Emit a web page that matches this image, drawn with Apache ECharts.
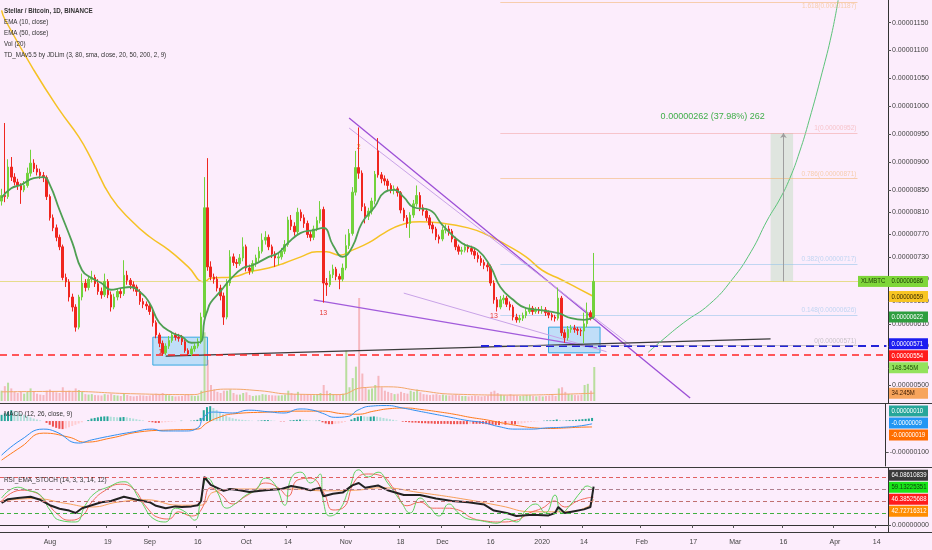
<!DOCTYPE html>
<html><head><meta charset="utf-8">
<script src="https://cdn.jsdelivr.net/npm/echarts@6/dist/echarts.min.js"></script>
<style>html,body{margin:0;padding:0;background:#fcedfc}#c{width:932px;height:550px}</style>
</head><body><div id="c"></div>
<script>
// ---------- DATA (prices in satoshi = 1e-8 BTC) ----------
const startDate = '2019-07-17';
const dayCount = 276; // daily categories, Jul 17 2019 .. Apr 18 2020

// [open, close, low, high] one row per day from Jul 17 2019
const candles = [
[830,840,822,852],[840,838,828,970],[838,891,834,905],[891,873,866,909],[873,864,858,880],
[864,858,850,870],[858,850,825,862],[850,858,846,866],[858,880,854,890],[880,898,874,922],
[898,888,882,905],[888,882,876,895],[882,876,870,888],[876,872,864,882],[872,838,832,876],
[838,800,795,842],[800,782,776,806],[782,765,758,788],[765,748,742,770],[748,693,688,752],
[693,685,676,700],[685,658,650,690],[658,640,632,664],[640,604,596,645],[604,658,600,662],
[658,683,652,700],[683,675,668,690],[675,690,670,696],[690,693,684,705],[693,682,676,698],
[682,668,662,690],[668,662,655,675],[662,686,658,700],[686,662,656,690],[662,640,632,668],
[640,658,636,664],[658,668,652,674],[668,664,656,674],[664,697,660,724],[697,688,680,705],
[688,680,672,692],[680,676,668,686],[676,668,660,680],[668,650,644,672],[650,645,638,656],
[645,642,635,650],[642,632,626,648],[632,612,605,636],[612,590,584,616],[590,575,568,594],
[575,558,553,580],[558,570,554,575],[570,580,565,588],[580,590,576,596],[590,586,580,594],
[586,584,578,592],[584,578,572,590],[578,562,558,582],[562,556,553,566],[556,565,552,570],
[565,570,560,575],[570,578,566,584],[578,622,574,630],[622,818,618,873],[818,712,705,907],
[712,694,688,722],[694,690,682,700],[690,674,668,695],[674,660,652,680],[660,622,608,666],
[622,683,618,690],[683,730,678,742],[730,720,714,736],[720,718,710,726],[718,728,714,735],
[728,748,722,765],[748,710,704,752],[710,705,698,716],[705,718,700,724],[718,728,712,734],
[728,740,722,748],[740,760,736,772],[760,765,752,776],[765,748,742,770],[748,735,728,752],
[735,728,712,740],[728,730,715,738],[730,740,725,746],[740,752,735,760],[752,796,748,802],
[796,785,778,805],[785,775,768,792],[775,810,770,818],[810,800,794,815],[800,790,782,806],
[790,770,764,795],[770,765,758,776],[765,780,760,786],[780,795,776,802],[795,815,790,830],
[815,683,648,820],[683,680,660,692],[680,698,676,705],[698,708,692,716],[708,695,688,712],
[695,690,672,700],[690,710,686,718],[710,750,706,770],[750,772,744,780],[772,846,768,855],
[846,890,840,920],[890,880,870,962],[880,820,812,885],[820,803,790,826],[803,812,796,818],
[812,830,806,836],[830,878,824,884],[920,877,872,943],[877,870,862,882],[870,866,858,876],
[866,858,850,870],[858,850,844,862],[850,852,842,858],[852,845,838,856],[845,814,808,848],
[814,800,794,818],[800,790,782,805],[790,805,764,810],[805,825,800,832],[825,840,820,858],
[840,818,812,846],[818,812,804,824],[812,800,794,816],[800,787,780,805],[787,780,772,792],
[780,766,760,784],[766,762,754,770],[762,778,758,784],[778,780,772,788],[780,776,768,786],
[776,762,756,780],[762,748,742,766],[748,740,734,752],[740,742,734,748],[742,748,738,754],
[748,745,738,752],[745,740,734,750],[740,733,726,745],[733,727,720,738],[727,720,714,732],
[720,715,708,725],[715,712,704,720],[712,683,678,716],[683,653,646,688],[653,640,632,658],
[640,653,636,660],[653,656,646,662],[656,645,640,660],[645,640,634,650],[640,622,616,644],
[622,617,612,628],[617,620,612,626],[620,625,615,630],[625,632,620,638],[632,638,628,645],
[638,632,626,642],[632,635,628,640],[635,633,628,640],[633,635,628,642],[635,630,624,640],
[630,626,620,634],[626,622,616,630],[622,620,614,626],[620,656,616,675],[656,594,588,660],
[594,585,576,600],[585,600,580,606],[600,602,594,608],[602,600,594,608],[600,598,590,604],
[598,597,588,602],[597,610,575,630],[610,630,604,648],[630,622,616,634],[622,686,618,737]
];

// volume, millions
const volume = [
45,65,80,55,40,35,42,32,40,55, 42,32,28,26,45,50,42,38,35,60,
42,45,40,55,48,40,30,28,30,26, 25,24,30,28,32,26,24,22,35,26,
22,20,22,25,24,22,24,28,32,30, 35,28,25,22,20,21,22,26,28,24,
22,24,45,300,180,70,50,40,35,45, 45,50,35,28,28,35,38,26,22,24,
25,30,28,26,25,24,24,25,28,45, 35,30,40,30,28,30,26,25,28,35,
70,45,35,30,28,30,32,220,60,100, 150,450,120,60,50,55,70,110,60,45,
40,35,30,32,40,35,32,45,40,50, 38,30,28,26,28,30,26,28,25,24,
26,28,25,22,22,20,22,24,22,20, 22,24,40,45,35,28,25,24,30,26,
24,22,24,26,25,22,20,22,20,22, 24,26,22,55,60,40,30,28,26,25,
28,70,75,45,148.545
];
const volumeMA = [[0,40],[20,42],[40,32],[60,28],[63,40],[70,52],[80,45],[90,30],[105,28],[112,58],[120,62],[130,45],[140,30],[160,26],[175,30],[184,34.245]];

// moving averages: [day index, value]
const ema10 = [[0,836],[3,853],[6,859],[10,871],[13,873],[15,859],[18,814],[22,755],[25,706],[28,692],[31,683],[34,671],[37,674],[40,676],[43,667],[46,647],[49,612],[53,594],[56,587],[59,576],[62,578],[63,615],[64,634],[65,648],[68,668],[71,689],[75,710],[78,715],[83,730],[86,737],[89,755],[93,773],[97,778],[100,782],[103,751],[106,730],[109,748],[112,791],[116,820],[119,846],[122,850],[125,837],[128,819],[133,814],[137,787],[143,755],[148,742],[152,712],[155,676],[159,653],[163,638],[167,635],[173,629],[177,620],[181,617],[184,622]];
const ema50 = [[0,1172],[1,1156],[10,1065],[18,993],[24,945],[28,904],[34,837],[41,791],[46,766],[52,742],[58,712],[63,685],[65,692],[72,694],[77,703],[83,710],[88,719],[93,730],[98,739],[101,739],[105,733],[109,742],[114,755],[119,773],[124,787],[130,793],[136,791],[145,782],[151,769],[157,751],[163,730],[168,706],[174,689],[179,674],[184,659]];

// MACD (12,26,9) in 1e-8
const macdLine = [[0,-110],[6,-61],[13,-26],[17,-35],[24,-71],[28,-61],[34,-48],[41,-35],[47,-26],[50,-32],[57,-32],[61,-23],[63,13],[66,29],[72,26],[77,35],[83,30],[88,26],[93,39],[97,35],[100,25],[104,12],[108,15],[111,35],[115,48],[120,50],[125,42],[130,32],[135,22],[140,12],[145,2],[150,-5],[155,-18],[160,-26],[165,-26],[170,-22],[175,-20],[180,-16],[184,-9]];
const signalLine = [[0,-126],[6,-84],[13,-39],[21,-52],[26,-68],[34,-55],[43,-35],[52,-29],[61,-26],[64,-6],[68,13],[72,23],[83,29],[93,32],[100,32],[106,24],[111,22],[116,32],[121,40],[126,42],[131,37],[136,30],[141,22],[146,12],[151,4],[156,-6],[161,-15],[166,-22],[171,-24],[176,-22],[180,-20],[184,-19]];
const macdHist = [
20,25,30,35,32,28,24,20,16,12, 8,5,2,0,-6,-12,-18,-22,-25,-26,
-24,-20,-16,-12,-8,-4,0,3,8,10, 12,14,15,15,14,13,12,12,13,12,
10,8,6,4,2,0,-2,-4,-6,-6, -5,-4,-3,-2,-1,0,1,0,0,1,
2,4,10,35,45,48,42,36,28,22, 16,12,9,7,5,4,3,2,1,0,
1,2,3,3,2,1,0,-1,-1,0, 2,3,4,5,4,3,2,1,1,2,
-4,-8,-10,-10,-9,-8,-6,-3,0,5, 10,14,16,15,14,14,15,14,12,10,
8,6,4,2,0,-2,-3,-4,-5,-5, -6,-7,-7,-8,-8,-9,-9,-9,-9,-9,
-10,-10,-10,-10,-10,-10,-9,-9,-9,-9, -9,-10,-11,-12,-13,-13,-12,-12,-11,-11,
-11,-10,-8,-6,-4,-3,-2,-1,0,1, 2,2,3,5,3,2,2,3,3,4,
5,6,7,8,10
];

// RSI_EMA_STOCH pane
const rsiLine = [[0,37],[2,43],[5,45],[9,47],[12,42],[15,33],[18,27],[21,24],[23,20],[25,28],[28,33],[31,38],[34,40],[38,47],[42,42],[46,38],[48,32],[51,28],[54,31],[56,30],[59,31],[61,33],[62,40],[63,80],[65,67],[69,57],[71,60],[74,58],[77,55],[82,58],[87,60],[90,65],[93,62],[96,58],[99,62],[100,48],[103,52],[106,54],[109,66],[111,70],[113,62],[117,66],[120,58],[125,50],[130,50],[135,44],[140,40],[145,38],[150,34],[153,24],[157,20],[160,15],[165,17],[170,16],[172,20],[173,30],[175,20],[178,23],[181,26],[183,30],[184,64.086]];
const stochK = [[0,45],[5,63],[8,58],[12,50],[15,25],[18,8],[23,5],[26,33],[29,53],[33,63],[38,72],[40,67],[43,42],[48,8],[51,5],[54,28],[57,22],[60,8],[62,45],[64,78],[67,55],[70,28],[73,37],[76,50],[79,58],[82,78],[85,67],[88,33],[90,78],[93,88],[96,70],[99,85],[100,40],[102,15],[105,25],[108,60],[111,92],[114,80],[117,88],[120,70],[124,40],[127,20],[130,45],[133,30],[136,15],[139,35],[142,20],[145,10],[148,8],[151,5],[154,3],[157,10],[160,5],[163,25],[166,35],[169,20],[172,50],[174,20],[177,35],[180,55],[182,65],[184,59.13]];
const stochD = [[0,40],[6,58],[10,55],[14,38],[17,20],[21,8],[25,15],[28,38],[32,57],[37,68],[41,60],[45,30],[49,12],[52,10],[55,22],[59,15],[62,25],[65,62],[68,52],[72,35],[75,45],[78,55],[82,70],[86,62],[89,48],[92,75],[96,78],[100,55],[103,25],[106,28],[110,75],[114,85],[118,82],[122,60],[126,32],[130,38],[134,28],[138,28],[142,25],[146,12],[150,7],[155,5],[160,8],[164,20],[168,28],[172,40],[175,30],[179,40],[182,45],[184,46.39]];
const rsiEma = [[0,40],[10,44],[20,36],[28,30],[36,38],[45,42],[55,33],[62,33],[66,55],[75,60],[90,60],[100,57],[110,58],[118,62],[130,54],[145,42],[155,32],[165,22],[175,22],[182,30],[184,42.73]];
const rsiLevels = [80, 60, 40, 20];

// axis ticks
const priceTicks = [1150,1100,1050,1000,950,900,850,810,770,730,690,650,610,570,530,500];
const xTicks = [['2019-08-01','Aug'],['2019-08-19','19'],['2019-09-01','Sep'],['2019-09-16','16'],['2019-10-01','Oct'],['2019-10-14','14'],['2019-11-01','Nov'],['2019-11-18','18'],['2019-12-01','Dec'],['2019-12-16','16'],['2020-01-01','2020'],['2020-01-14','14'],['2020-02-01','Feb'],['2020-02-17','17'],['2020-03-01','Mar'],['2020-03-16','16'],['2020-04-01','Apr'],['2020-04-14','14']];

// drawings: [day index, price]
const fibLevels = [[0,571,'#9e9e9e'],[0.148,626,'#8fc3ea'],[0.382,717,'#8fc3ea'],[0.786,871,'#f2b36b'],[1,952,'#f3a3a3'],[1.618,1187,'#f2b36b']];
const fibSpan = [155, 266];
const wedgeUpperThick = [[108,979],[214,477]];
const wedgeUpperThin = [[108,961],[196,569]];
const wedgeLowerThick = [[97,653],[185,567]];
const wedgeLowerThin = [[125,665],[188,560]];
const supportLine = [[51,552],[239,583]];
const parabola = [[201,559],[205,579],[212,612],[220,645],[227,689],[233,740],[238,796],[242,835],[245,871],[248,918],[251,975],[255,1060],[258,1130],[260,1190]];
const boxes = [[[47,586],[64,536]],[[170,604],[186,558]]];
const measureBox = [[239,952],[246,686]];
const measureText = '0.00000262 (37.98%) 262';
const tdMarks = [[50,560,'12','#e53935'],[100,630,'13','#e53935'],[153,624,'13','#e53935'],[111,926,'2','#f0a030']];
const lastPrice = 686, ema50Last = 659, ema10Last = 622, blueLevel = 571, redLevel = 554;

// ---------- BUILD ----------
const dates = [];
(function(){ const d0 = new Date(startDate + 'T00:00:00Z');
  for (let i = 0; i < dayCount; i++) { const d = new Date(d0.getTime() + i*86400000); dates.push(d.toISOString().slice(0,10)); } })();
const tickMap = {}; xTicks.forEach(t => tickMap[t[0]] = t[1]);
const fmtP = v => (v/1e8).toFixed(8);
const FONT = "'Liberation Sans',Arial,sans-serif";
const UP = '#72d23c', DOWN = '#f0261f';
const R = 43;
const AX_FS = 7;

const volData = volume.map((v,i) => ({ value: v, itemStyle: { color: candles[i][1] >= candles[i][0] ? 'rgba(130,210,80,0.55)' : 'rgba(240,120,120,0.45)' } }));
const histData = macdHist.map((v,i) => { const p = i ? macdHist[i-1] : v;
  let c = v >= 0 ? (v >= p ? '#26a69a' : '#b2dfdb') : (v <= p ? '#ef5350' : '#ffcdd2');
  return { value: v, itemStyle: { color: c } }; });

const xAxisBase = (g, show) => ({ type: 'category', gridIndex: g, data: dates, boundaryGap: true,
  axisLine: { show: show, lineStyle: { color: '#333' } },
  axisTick: { show: show, interval: (i, v) => tickMap[v] !== undefined, length: 3, lineStyle: { color: '#555' } },
  axisLabel: { show: show, interval: (i, v) => tickMap[v] !== undefined, formatter: v => tickMap[v] || '', fontFamily: FONT, fontSize: AX_FS, color: '#444', margin: 7 },
  splitLine: { show: false } });

const lineSeg = (pts, color, width, x, y, type) => ({ type: 'line', xAxisIndex: x||0, yAxisIndex: y||0, data: pts, symbol: 'none', silent: true,
  lineStyle: { color: color, width: width, type: type || 'solid' }, z: 4 });

const yLab = (vals, fmt) => ({ customValues: vals, formatter: fmt, fontFamily: FONT, fontSize: AX_FS, color: '#444', margin: 4 });
const yTick = vals => ({ show: true, length: 3, customValues: vals, lineStyle: { color: '#555' } });

const option = {
  animation: false,
  backgroundColor: '#fcedfc',
  textStyle: { fontFamily: FONT },
  grid: [
    { left: 0, right: R, top: 0, height: 403 },
    { left: 0, right: R, top: 271, height: 130 },
    { left: 0, right: R, top: 404, height: 62 },
    { left: 0, right: R, top: 468, height: 64 }
  ],
  xAxis: [ xAxisBase(0,false), xAxisBase(1,false), xAxisBase(2,false), xAxisBase(3,true) ],
  yAxis: [
    { type: 'value', gridIndex: 0, position: 'right', min: 468, max: 1190.5,
      axisLine: { show: true, lineStyle: { color: '#333' } }, axisTick: yTick(priceTicks), axisLabel: yLab(priceTicks, fmtP), splitLine: { show: false } },
    { type: 'value', gridIndex: 1, min: 0, max: 568, show: false, splitLine: { show: false } },
    { type: 'value', gridIndex: 2, position: 'right', min: -145, max: 55,
      axisLine: { show: true, lineStyle: { color: '#333' } }, axisTick: yTick([-100]), axisLabel: yLab([-100], fmtP), splitLine: { show: false } },
    { type: 'value', gridIndex: 3, position: 'right', min: -11.7, max: 95,
      axisLine: { show: true, lineStyle: { color: '#333' } }, axisTick: yTick([0]), axisLabel: yLab([0], v => v.toFixed(8)), splitLine: { show: false } }
  ],
  series: [
    { type: 'bar', xAxisIndex: 1, yAxisIndex: 1, data: volData, barWidth: 2, z: 1, silent: true },
    { type: 'line', xAxisIndex: 1, yAxisIndex: 1, data: volumeMA, symbol: 'none', smooth: true, lineStyle: { color: '#f3a86a', width: 1 }, z: 1 },
    { type: 'candlestick', xAxisIndex: 0, yAxisIndex: 0, data: candles, barWidth: 2, z: 5,
      itemStyle: { color: UP, color0: DOWN, borderColor: UP, borderColor0: DOWN, borderWidth: 1 },
      markArea: { silent: true, data: [
        ...boxes.map(b => [{ coord: b[0], itemStyle: { color: 'rgba(120,205,245,0.45)', borderColor: '#36a9e1', borderWidth: 1 } }, { coord: b[1] }]),
        [{ coord: measureBox[0], itemStyle: { color: 'rgba(110,200,110,0.2)' } }, { coord: measureBox[1] }]
      ] },
      markLine: { silent: true, symbol: 'none', animation: false, data: [
        { yAxis: lastPrice, lineStyle: { color: '#e6dc8c', width: 1, type: 'solid' }, label: { show: false } },
        { yAxis: redLevel, lineStyle: { color: '#ff2424', width: 1.6, type: [7, 5] }, label: { show: false } },
        [{ coord: [149, blueLevel], lineStyle: { color: '#2323d8', width: 2, type: [8, 5] }, label: { show: false } }, { coord: [dayCount - 1, blueLevel] }],
        ...fibLevels.map(f => [{ coord: [fibSpan[0], f[1]], lineStyle: { color: f[2], width: 1, type: 'solid', opacity: 0.55 },
            label: { show: true, position: f[1] > 1150 ? 'insideEndBottom' : 'insideEndTop', formatter: f[0] + '(' + fmtP(f[1]) + ')', color: f[2], fontFamily: FONT, fontSize: 6.5, distance: 1 } },
          { coord: [fibSpan[1], f[1]] }]),
        [{ coord: [Math.round((measureBox[0][0] + measureBox[1][0]) / 2), measureBox[1][1]], symbol: 'none', lineStyle: { color: '#9e9e9e', width: 1, type: 'solid' }, label: { show: false } },
         { coord: [Math.round((measureBox[0][0] + measureBox[1][0]) / 2), measureBox[0][1]], symbol: 'arrow', symbolSize: 5 }]
      ] },
      markPoint: { silent: true, symbol: 'circle', symbolSize: 0, data: [
        ...tdMarks.map(m => ({ coord: [m[0], m[1]], label: { show: true, formatter: m[2], color: m[3], fontSize: 7, fontFamily: FONT } })),
        { coord: [221, 982], label: { show: true, formatter: measureText, color: '#3fae49', fontSize: 9, fontFamily: FONT } }
      ] }
    },
    { type: 'line', xAxisIndex: 0, yAxisIndex: 0, data: ema50, symbol: 'none', smooth: true, lineStyle: { color: '#f5c225', width: 1.5 }, z: 3 },
    { type: 'line', xAxisIndex: 0, yAxisIndex: 0, data: ema10, symbol: 'none', smooth: true, lineStyle: { color: '#4f9f53', width: 1.8 }, z: 6 },
    lineSeg(wedgeUpperThick, '#9c4fd6', 1.3),
    lineSeg(wedgeUpperThin, '#c9a3e8', 1),
    lineSeg(wedgeLowerThick, '#a25bdb', 1.3),
    lineSeg(wedgeLowerThin, '#c9a3e8', 1),
    lineSeg(supportLine, '#3a3a3a', 1.3),
    Object.assign(lineSeg(parabola, '#5cc37a', 1), { smooth: true }),
    { type: 'bar', xAxisIndex: 2, yAxisIndex: 2, data: histData, barWidth: 2, silent: true },
    { type: 'line', xAxisIndex: 2, yAxisIndex: 2, data: signalLine, symbol: 'none', smooth: true, lineStyle: { color: '#ff7a1a', width: 1 } },
    { type: 'line', xAxisIndex: 2, yAxisIndex: 2, data: macdLine, symbol: 'none', smooth: true, lineStyle: { color: '#2f8ff0', width: 1 } },
    { type: 'line', xAxisIndex: 3, yAxisIndex: 3, data: rsiEma, symbol: 'none', smooth: true, lineStyle: { color: '#f7a05a', width: 1 },
      markLine: { silent: true, symbol: 'none', label: { show: false }, data: rsiLevels.map((v, k) => ({ yAxis: v, lineStyle: { color: ['#e06060', '#b08090', '#c07070', '#40b040'][k], width: 1, type: [4, 3] } })) } },
    { type: 'line', xAxisIndex: 3, yAxisIndex: 3, data: stochD, symbol: 'none', smooth: true, lineStyle: { color: '#f06a5a', width: 1 } },
    { type: 'line', xAxisIndex: 3, yAxisIndex: 3, data: stochK, symbol: 'none', smooth: true, lineStyle: { color: '#5fd35f', width: 1 } },
    { type: 'line', xAxisIndex: 3, yAxisIndex: 3, data: rsiLine, symbol: 'none', lineStyle: { color: '#222', width: 2 } }
  ]
};

const chart = echarts.init(document.getElementById('c'), null, { renderer: 'canvas' });
chart.setOption(option);

// ---------- axis tags and overlay text ----------
const n = candles.length - 1;
const tagGroups = [
  [ { ax: 0, v: lastPrice, t: fmtP(lastPrice), bg: '#7fd63a', fg: '#1b3a05', sym: 'XLMBTC' },
    { ax: 0, v: ema50Last, t: fmtP(ema50Last), bg: '#f8c524', fg: '#3a2a00' },
    { ax: 0, v: ema10Last, t: fmtP(ema10Last), bg: '#2f9e3f', fg: '#ffffff' },
    { ax: 0, v: blueLevel, t: fmtP(blueLevel), bg: '#1c1cf0', fg: '#ffffff' },
    { ax: 0, v: redLevel, t: fmtP(redLevel), bg: '#ff1c1c', fg: '#ffffff' },
    { ax: 1, v: volume[n], t: volume[n].toFixed(3) + 'M', bg: '#93e25c', fg: '#1b4a05' },
    { ax: 1, v: volumeMA[volumeMA.length-1][1], t: volumeMA[volumeMA.length-1][1].toFixed(3) + 'M', bg: '#f7a45c', fg: '#3a1a00' } ],
  [ { ax: 2, v: macdHist[n], t: fmtP(macdHist[n]), bg: '#26a69a', fg: '#ffffff' },
    { ax: 2, v: macdLine[macdLine.length-1][1], t: '-0.0000009', bg: '#2196f3', fg: '#ffffff' },
    { ax: 2, v: signalLine[signalLine.length-1][1], t: fmtP(signalLine[signalLine.length-1][1]), bg: '#ff6d00', fg: '#ffffff' } ],
  [ { ax: 3, v: rsiLine[rsiLine.length-1][1], t: '64.08610839', bg: '#3a3a3a', fg: '#ffffff' },
    { ax: 3, v: stochK[stochK.length-1][1], t: '59.13225351', bg: '#19e619', fg: '#0b3a0b' },
    { ax: 3, v: stochD[stochD.length-1][1], t: '46.38525688', bg: '#ff1c1c', fg: '#ffffff' },
    { ax: 3, v: rsiEma[rsiEma.length-1][1], t: '42.72716312', bg: '#ff8c00', fg: '#ffffff' } ]
];
const GAP = 12;
function spread(tags) {
  tags.forEach(t => t.y0 = chart.convertToPixel({ yAxisIndex: t.ax }, t.v));
  tags.sort((a, b) => a.y0 - b.y0);
  let cl = tags.map(t => ({ items: [t] }));
  const center = c => c.items.reduce((s, t) => s + t.y0, 0) / c.items.length;
  let changed = true;
  while (changed) { changed = false;
    for (let k = 0; k < cl.length - 1; k++) {
      const a = cl[k], b = cl[k+1];
      const aB = center(a) + (a.items.length - 1) * GAP / 2, bT = center(b) - (b.items.length - 1) * GAP / 2;
      if (bT - aB < GAP) { cl.splice(k, 2, { items: a.items.concat(b.items) }); changed = true; break; }
    } }
  cl.forEach(c => { const m = center(c); c.items.forEach((t, j) => t.y = m + (j - (c.items.length - 1) / 2) * GAP); });
}
const gfx = [];
const AXX = 932 - R;
const TAG_FONT = '7.5px ' + FONT;
tagGroups.forEach(g => { spread(g); g.forEach(t => {
  gfx.push({ type: 'rect', shape: { x: AXX, y: t.y - 5.5, width: 39, height: 11 }, style: { fill: t.bg }, z: 100 });
  gfx.push({ type: 'text', x: AXX + 2.5, y: t.y, scaleX: 0.8, style: { text: t.t, fill: t.fg, font: TAG_FONT, textVerticalAlign: 'middle', textAlign: 'left' }, z: 101 });
  if (t.sym) {
    gfx.push({ type: 'rect', shape: { x: AXX - 31, y: t.y - 5.5, width: 31, height: 11 }, style: { fill: t.bg }, z: 100 });
    gfx.push({ type: 'text', x: AXX - 28, y: t.y, scaleX: 0.8, style: { text: t.sym, fill: t.fg, font: TAG_FONT, textVerticalAlign: 'middle' }, z: 101 });
  }
}); });
// pane separators
[403.5, 467.5, 532.5].forEach(y => gfx.push({ type: 'line', shape: { x1: 0, y1: y, x2: 932, y2: y }, style: { stroke: '#3a3a3a', lineWidth: 1 }, z: 90 }));
// legend / pane titles
const legendLines = [['Stellar / Bitcoin, 1D, BINANCE', true], ['EMA (10, close)'], ['EMA (50, close)'], ['Vol (20)'], ['TD_MAv5.5 by JDLim (3, 80, sma, close, 20, 50, 200, 2, 9)']];
legendLines.forEach((l, k) => gfx.push({ type: 'text', x: 4, y: 11 + k * 11, scaleX: 0.78, style: { text: l[0], fill: '#333', font: (l[1] ? 'bold ' : '') + '8px ' + FONT, textVerticalAlign: 'middle' }, z: 100 }));
gfx.push({ type: 'text', x: 4, y: 414, scaleX: 0.8, style: { text: 'MACD (12, 26, close, 9)', fill: '#333', font: '8px ' + FONT, textVerticalAlign: 'middle' }, z: 100 });
gfx.push({ type: 'text', x: 4, y: 480, scaleX: 0.8, style: { text: 'RSI_EMA_STOCH (14, 3, 3, 14, 12)', fill: '#333', font: '8px ' + FONT, textVerticalAlign: 'middle' }, z: 100 });
chart.setOption({ graphic: gfx });
</script></body></html>
